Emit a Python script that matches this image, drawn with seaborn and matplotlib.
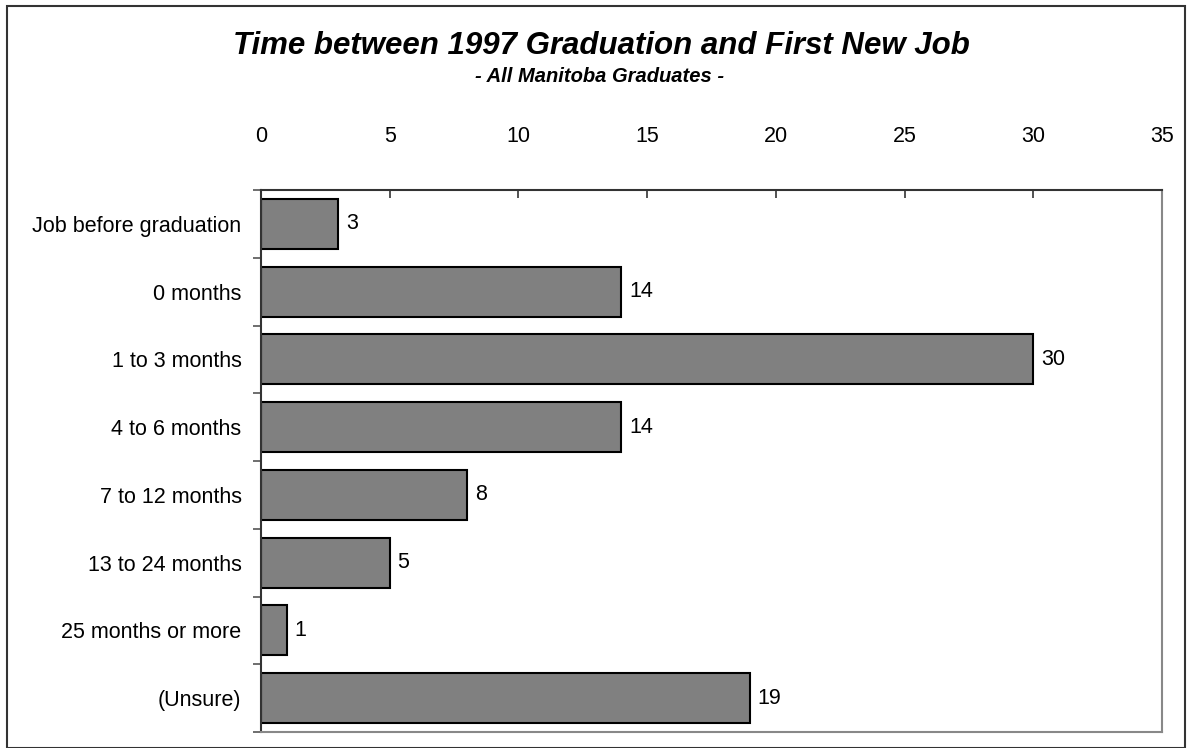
import numpy as np
import pandas as pd
import matplotlib
matplotlib.use("Agg")
import matplotlib.pyplot as plt
import seaborn as sns

categories = ["Job before graduation", "0 months", "1 to 3 months", "4 to 6 months",
              "7 to 12 months", "13 to 24 months", "25 months or more", "(Unsure)"]
values = [3, 14, 30, 14, 8, 5, 1, 19]
xticks = [0, 5, 10, 15, 20, 25, 30, 35]

sns.set_theme(style="white")
plt.rcParams['font.family'] = ['Liberation Sans', 'DejaVu Sans']
plt.rcParams['text.color'] = 'black'
plt.rcParams['xtick.color'] = 'black'
plt.rcParams['ytick.color'] = 'black'

df = pd.DataFrame({"category": categories, "value": values})

fig = plt.figure(figsize=(11.92, 7.48), dpi=100)
ax = fig.add_axes([261 / 1192, 1 - 732 / 748, (1162 - 261) / 1192, (732 - 190) / 748])

sns.barplot(data=df, x="value", y="category", orient="h", color="#808080",
            saturation=1, edgecolor="black", linewidth=1.5, width=0.74, ax=ax)

ax.set_xlim(0, 35)
ax.set_ylim(len(categories) - 0.5, -0.5)
ax.set_xticks(xticks)
ax.xaxis.tick_top()
ax.tick_params(axis="x", direction="in", length=6, width=1.2, color="#333333",
               labelsize=15.5, labelcolor="black", pad=31, top=True, bottom=False)
ax.set_yticks(range(len(categories)))
ax.set_yticklabels(categories)
ax.tick_params(axis="y", which="major", length=0, labelsize=15.5, labelcolor="black", pad=14)
# tick marks sit on the category boundaries
ax.set_yticks(np.arange(-0.5, len(categories), 1), minor=True)
ax.tick_params(axis="y", which="minor", direction="out", length=6, width=1.2, color="#555555", left=True)
ax.set_xlabel("")
ax.set_ylabel("")

for side in ["top", "left"]:
    ax.spines[side].set_color("#333333")
    ax.spines[side].set_linewidth(1.5)
for side in ["right", "bottom"]:
    ax.spines[side].set_color("#888888")
    ax.spines[side].set_linewidth(1.5)
    ax.spines[side].set_visible(True)

# value labels right of each bar
for i, v in enumerate(values):
    ax.text(v + 0.3, i, str(v), va="center", ha="left", fontsize=15.5, color="black")

fig.text(601 / 1192, 1 - 46 / 748, "Time between 1997 Graduation and First New Job",
         ha="center", va="center", fontsize=22.5, fontweight="bold", fontstyle="italic")
fig.text(600 / 1192, 1 - 76 / 748, "- All Manitoba Graduates -",
         ha="center", va="center", fontsize=14.5, fontweight="bold", fontstyle="italic")

border = plt.Rectangle((7 / 1192, 0.0), (1185 - 7) / 1192, 1 - 6 / 748, transform=fig.transFigure,
                       fill=False, edgecolor="#333333", linewidth=1.5)
fig.patches.append(border)

fig.savefig("out.png", dpi=100, facecolor="white")
